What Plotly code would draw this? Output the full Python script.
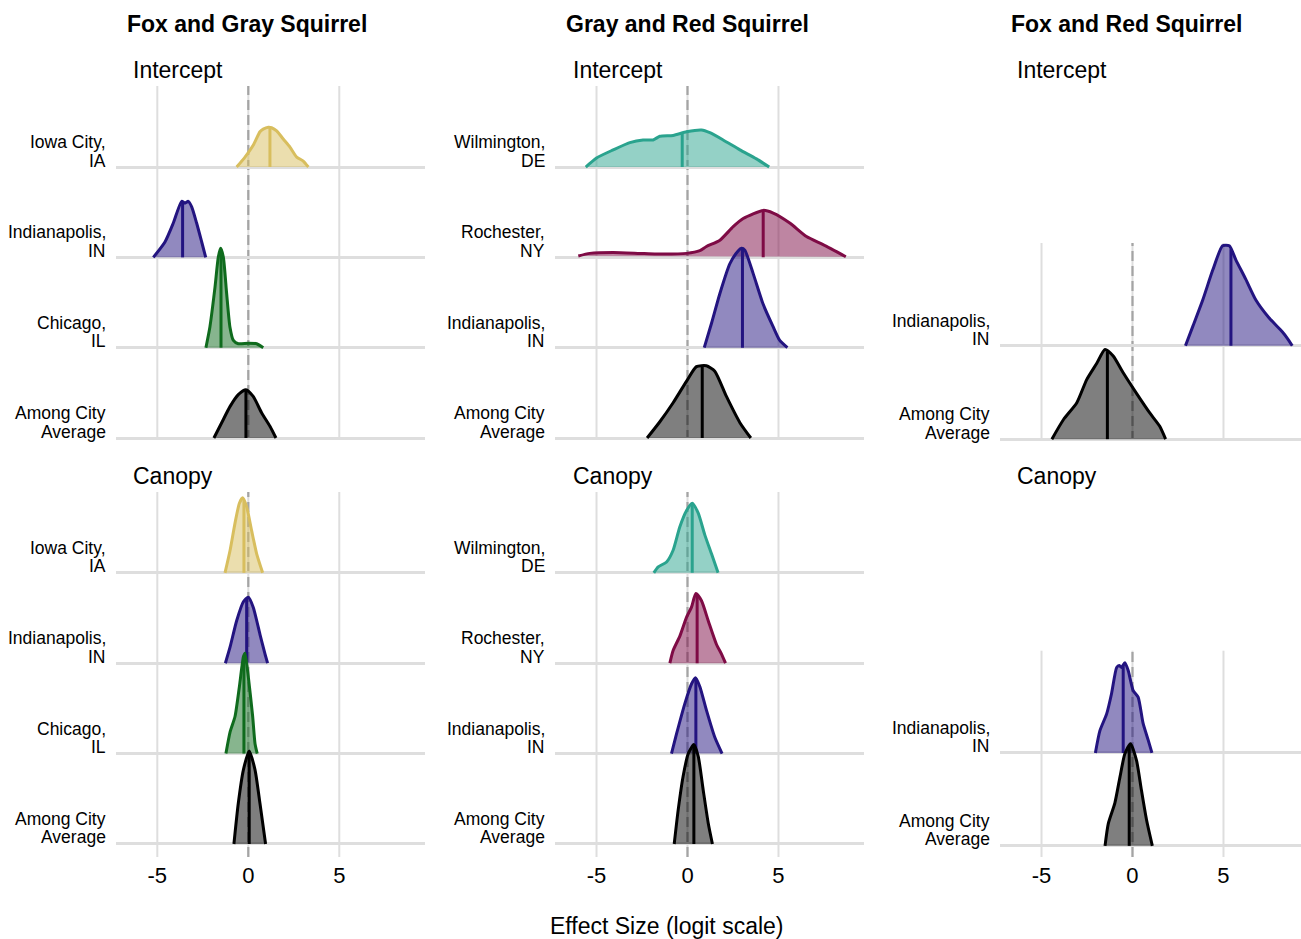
import numpy as np
import plotly.graph_objects as go

W, H = 1301, 939
FONT = "Liberation Sans, Arial, Helvetica, sans-serif"

# ---------------- data ----------------
COLUMN_TITLES = ["Fox and Gray Squirrel", "Gray and Red Squirrel", "Fox and Red Squirrel"]
PARAMS = ["Intercept", "Canopy"]
X_TICKS = [-5, 0, 5]
X_TICK_TEXT = ["-5", "0", "5"]
X_TITLE = "Effect Size (logit scale)"

# row order bottom -> top
ROWS_FG = ["Among City|Average", "Chicago,|IL", "Indianapolis,|IN", "Iowa City,|IA"]
ROWS_GR = ["Among City|Average", "Indianapolis,|IN", "Rochester,|NY", "Wilmington,|DE"]
ROWS_FR = ["Among City|Average", "Indianapolis,|IN"]

# --- Fox & Gray, Intercept
FG_INT_IOWA_X = [-0.64, -0.18, 0.27, 0.64, 0.82, 1.10, 1.28, 1.56, 1.92, 2.29, 2.66, 3.02, 3.30]
FG_INT_IOWA_H = [0, 0.11, 0.24, 0.39, 0.42, 0.44, 0.435, 0.40, 0.31, 0.22, 0.11, 0.066, 0]
FG_INT_IOWA_MED = 1.19
FG_INT_INDY_X = [-5.22, -4.58, -4.12, -3.66, -3.48, -3.30, -3.11, -2.84, -2.56, -2.34]
FG_INT_INDY_H = [0, 0.17, 0.38, 0.62, 0.60, 0.62, 0.56, 0.38, 0.17, 0]
FG_INT_INDY_MED = -3.61
FG_INT_CHI_X = [-2.33, -2.11, -1.83, -1.65, -1.52, -1.37, -1.19, -1.01, -0.82, -0.55, 0.0, 0.46, 0.82]
FG_INT_CHI_H = [0, 0.23, 0.67, 1.0, 1.10, 1.0, 0.60, 0.23, 0.08, 0.044, 0.05, 0.044, 0]
FG_INT_CHI_MED = -1.50
FG_INT_AVG_X = [-1.89, -1.47, -1.0, -0.55, -0.13, 0.27, 0.73, 1.19, 1.52]
FG_INT_AVG_H = [0, 0.166, 0.35, 0.48, 0.535, 0.46, 0.28, 0.13, 0]
FG_INT_AVG_MED = -0.13

# --- Gray & Red, Intercept
GR_INT_WIL_X = [-5.59, -5.0, -4.08, -3.17, -2.44, -1.89, -1.52, -0.79, -0.05, 0.77, 1.23, 1.96, 2.88, 3.79, 4.49]
GR_INT_WIL_H = [0, 0.10, 0.19, 0.27, 0.30, 0.30, 0.34, 0.35, 0.39, 0.41, 0.38, 0.30, 0.19, 0.09, 0]
GR_INT_WIL_MED = -0.29
GR_INT_ROC_X = [-6.0, -5.37, -4.08, -2.62, -1.70, -0.05, 0.68, 1.04, 1.78, 2.51, 3.06, 4.16, 4.71, 5.62, 6.54, 7.45, 8.70]
GR_INT_ROC_H = [0.015, 0.044, 0.055, 0.044, 0.037, 0.044, 0.074, 0.12, 0.19, 0.34, 0.43, 0.52, 0.49, 0.38, 0.23, 0.14, 0.007]
GR_INT_ROC_MED = 4.16
GR_INT_INDY_X = [0.92, 1.32, 1.78, 2.33, 2.78, 2.97, 3.15, 3.61, 4.16, 4.71, 5.07, 5.49]
GR_INT_INDY_H = [0, 0.27, 0.60, 0.93, 1.07, 1.10, 1.08, 0.82, 0.48, 0.23, 0.08, 0]
GR_INT_INDY_MED = 3.02
GR_INT_AVG_X = [-2.22, -1.52, -0.79, -0.05, 0.49, 1.04, 1.50, 2.14, 2.88, 3.48]
GR_INT_AVG_H = [0, 0.18, 0.39, 0.63, 0.79, 0.80, 0.74, 0.46, 0.17, 0]
GR_INT_AVG_MED = 0.81

# --- Fox & Red, Intercept
FR_INT_INDY_X = [2.91, 3.32, 3.86, 4.41, 4.95, 5.32, 5.68, 6.23, 6.78, 7.50, 8.23, 8.51, 8.78]
FR_INT_INDY_H = [0, 0.21, 0.49, 0.81, 1.07, 1.07, 0.92, 0.71, 0.49, 0.30, 0.15, 0.08, 0]
FR_INT_INDY_MED = 5.41
FR_INT_AVG_X = [-4.43, -3.79, -3.06, -2.51, -1.97, -1.51, -1.06, -0.51, 0.22, 0.95, 1.49, 1.82]
FR_INT_AVG_H = [0, 0.21, 0.39, 0.64, 0.81, 0.96, 0.89, 0.71, 0.49, 0.28, 0.14, 0]
FR_INT_AVG_MED = -1.38

# --- Fox & Gray, Canopy
FG_CAN_IOWA_X = [-1.28, -1.0, -0.73, -0.49, -0.31, -0.09, 0.18, 0.46, 0.79]
FG_CAN_IOWA_H = [0, 0.25, 0.55, 0.77, 0.83, 0.73, 0.47, 0.21, 0]
FG_CAN_IOWA_MED = -0.24
FG_CAN_INDY_X = [-1.26, -1.0, -0.64, -0.27, 0.0, 0.27, 0.64, 0.92, 1.06]
FG_CAN_INDY_H = [0, 0.18, 0.47, 0.68, 0.73, 0.62, 0.32, 0.10, 0]
FG_CAN_INDY_MED = -0.09
FG_CAN_CHI_X = [-1.23, -1.0, -0.73, -0.49, -0.27, -0.18, 0.0, 0.24, 0.37, 0.49]
FG_CAN_CHI_H = [0, 0.24, 0.41, 0.74, 1.07, 1.11, 0.85, 0.41, 0.11, 0]
FG_CAN_CHI_MED = -0.24
FG_CAN_AVG_X = [-0.79, -0.55, -0.27, 0.05, 0.37, 0.64, 0.95]
FG_CAN_AVG_H = [0, 0.45, 0.82, 1.03, 0.82, 0.45, 0]
FG_CAN_AVG_MED = 0.05

# --- Gray & Red, Canopy
GR_CAN_WIL_X = [-1.85, -1.61, -1.15, -0.79, -0.42, -0.05, 0.26, 0.59, 0.95, 1.32, 1.68]
GR_CAN_WIL_H = [0, 0.066, 0.12, 0.25, 0.51, 0.69, 0.77, 0.66, 0.42, 0.21, 0]
GR_CAN_WIL_MED = 0.26
GR_CAN_ROC_X = [-0.97, -0.79, -0.42, -0.05, 0.22, 0.46, 0.77, 1.14, 1.59, 1.87, 2.09]
GR_CAN_ROC_H = [0, 0.14, 0.30, 0.51, 0.62, 0.77, 0.69, 0.47, 0.21, 0.10, 0]
GR_CAN_ROC_MED = 0.53
GR_CAN_INDY_X = [-0.88, -0.60, -0.15, 0.22, 0.44, 0.68, 1.04, 1.50, 1.90]
GR_CAN_INDY_H = [0, 0.22, 0.55, 0.77, 0.84, 0.74, 0.48, 0.18, 0]
GR_CAN_INDY_MED = 0.46
GR_CAN_AVG_X = [-0.73, -0.51, -0.24, 0.04, 0.35, 0.59, 0.86, 1.14, 1.37]
GR_CAN_AVG_H = [0, 0.38, 0.75, 1.0, 1.10, 0.97, 0.60, 0.23, 0]
GR_CAN_AVG_MED = 0.35

# --- Fox & Red, Canopy
FR_CAN_INDY_X = [-2.04, -1.79, -1.42, -1.15, -0.87, -0.73, -0.60, -0.42, -0.24, 0.04, 0.31, 0.58, 0.86, 1.07]
FR_CAN_INDY_H = [0, 0.24, 0.42, 0.64, 0.92, 0.94, 0.92, 0.97, 0.89, 0.67, 0.60, 0.32, 0.14, 0]
FR_CAN_INDY_MED = -0.51
FR_CAN_AVG_X = [-1.51, -1.33, -0.97, -0.69, -0.42, -0.11, 0.22, 0.49, 0.77, 1.09]
FR_CAN_AVG_H = [0, 0.24, 0.46, 0.74, 0.99, 1.10, 0.92, 0.60, 0.28, 0]
FR_CAN_AVG_MED = -0.18

CITY_COLORS = {
    "Iowa City": "#D8BE5E",
    "Indianapolis": "#231480",
    "Chicago": "#0F6B1D",
    "Among City": "#000000",
    "Wilmington": "#2AA38E",
    "Rochester": "#7E0B45",
}

# ---------------- layout geometry (pixels) ----------------
COL_X = [(116.0, 425.0), (555.2, 864.2), (1000.2, 1301.0)]
COL_XRANGE = [(-7.27, 9.71), (-7.27, 9.71), (-7.27, 9.26)]
# (pixel top, pixel bottom, range low, range high) for [param][col]
PANEL_Y = {
    0: [(86, 440, -0.022, 3.897), (86, 440, -0.022, 3.897), (243, 441, -0.02, 2.10)],
    1: [(492, 857, -0.144, 3.894), (492, 857, -0.144, 3.894), (650.7, 857, -0.12, 2.10)],
}

RIDGES = {
    (0, 0): [(FG_INT_AVG_X, FG_INT_AVG_H, FG_INT_AVG_MED), (FG_INT_CHI_X, FG_INT_CHI_H, FG_INT_CHI_MED),
             (FG_INT_INDY_X, FG_INT_INDY_H, FG_INT_INDY_MED), (FG_INT_IOWA_X, FG_INT_IOWA_H, FG_INT_IOWA_MED)],
    (0, 1): [(GR_INT_AVG_X, GR_INT_AVG_H, GR_INT_AVG_MED), (GR_INT_INDY_X, GR_INT_INDY_H, GR_INT_INDY_MED),
             (GR_INT_ROC_X, GR_INT_ROC_H, GR_INT_ROC_MED), (GR_INT_WIL_X, GR_INT_WIL_H, GR_INT_WIL_MED)],
    (0, 2): [(FR_INT_AVG_X, FR_INT_AVG_H, FR_INT_AVG_MED), (FR_INT_INDY_X, FR_INT_INDY_H, FR_INT_INDY_MED)],
    (1, 0): [(FG_CAN_AVG_X, FG_CAN_AVG_H, FG_CAN_AVG_MED), (FG_CAN_CHI_X, FG_CAN_CHI_H, FG_CAN_CHI_MED),
             (FG_CAN_INDY_X, FG_CAN_INDY_H, FG_CAN_INDY_MED), (FG_CAN_IOWA_X, FG_CAN_IOWA_H, FG_CAN_IOWA_MED)],
    (1, 1): [(GR_CAN_AVG_X, GR_CAN_AVG_H, GR_CAN_AVG_MED), (GR_CAN_INDY_X, GR_CAN_INDY_H, GR_CAN_INDY_MED),
             (GR_CAN_ROC_X, GR_CAN_ROC_H, GR_CAN_ROC_MED), (GR_CAN_WIL_X, GR_CAN_WIL_H, GR_CAN_WIL_MED)],
    (1, 2): [(FR_CAN_AVG_X, FR_CAN_AVG_H, FR_CAN_AVG_MED), (FR_CAN_INDY_X, FR_CAN_INDY_H, FR_CAN_INDY_MED)],
}
ROW_NAMES = [ROWS_FG, ROWS_GR, ROWS_FR]


def hex_rgba(h, a):
    h = h.lstrip("#")
    r, g, b = int(h[0:2], 16), int(h[2:4], 16), int(h[4:6], 16)
    return f"rgba({r},{g},{b},{a})"


def fx(px):
    return px / W


def fy(py):
    return 1 - py / H


fig = go.Figure()
layout = dict(
    width=W, height=H, autosize=False,
    margin=dict(l=0, r=0, t=0, b=0),
    paper_bgcolor="white", plot_bgcolor="white",
    showlegend=False, font=dict(family=FONT, color="black"),
)
shapes, annotations = [], []

GRID = "#DEDEDE"
idx = 0
for p in range(2):
    for c in range(3):
        idx += 1
        xa = "x" if idx == 1 else f"x{idx}"
        ya = "y" if idx == 1 else f"y{idx}"
        xkey = "xaxis" if idx == 1 else f"xaxis{idx}"
        ykey = "yaxis" if idx == 1 else f"yaxis{idx}"
        top, bot, ylo, yhi = PANEL_Y[p][c]
        rows = ROW_NAMES[c]
        layout[xkey] = dict(
            domain=[fx(COL_X[c][0]), fx(COL_X[c][1])], range=list(COL_XRANGE[c]),
            anchor=ya, tickvals=X_TICKS, ticktext=X_TICK_TEXT,
            showticklabels=(p == 1), ticks="", showgrid=False,
            zeroline=False, showline=False, tickfont=dict(size=22, family=FONT, color="black"),
            ticklabelstandoff=3, fixedrange=True,
        )
        layout[ykey] = dict(
            domain=[fy(bot), fy(top)], range=[ylo, yhi], anchor=xa,
            tickvals=list(range(len(rows))), showticklabels=False, ticks="",
            showgrid=True, gridcolor=GRID, gridwidth=2.5, zeroline=False, showline=False,
            fixedrange=True,
        )
        # vertical grid lines at the x ticks, then the dashed zero reference line
        for tv in X_TICKS:
            shapes.append(dict(type="line", xref=xa, yref=f"{ya} domain", x0=tv, x1=tv, y0=0, y1=1,
                               line=dict(color=GRID, width=2), layer="below"))
        shapes.append(dict(type="line", xref=xa, yref=f"{ya} domain", x0=0, x1=0, y0=0, y1=1,
                           line=dict(color="#A4A4A4", width=2.2, dash="10px,5px"), layer="below"))

        # ridges: top row drawn first so lower rows are in front
        ridges = RIDGES[(p, c)]
        for k in range(len(ridges) - 1, -1, -1):
            xs, hs, med = ridges[k]
            name = rows[k].split("|")[0].rstrip(",")
            col = CITY_COLORS[name]
            ys = [k + h for h in hs]
            fig.add_trace(go.Scatter(
                x=xs, y=ys, mode="lines", xaxis=xa, yaxis=ya,
                line=dict(color=col, width=3, shape="spline", smoothing=0.6),
                fill="toself", fillcolor=hex_rgba(col, 0.5), hoverinfo="skip",
            ))
            mh = float(np.interp(med, xs, hs))
            fig.add_trace(go.Scatter(
                x=[med, med], y=[k, k + mh], mode="lines", xaxis=xa, yaxis=ya,
                line=dict(color=col, width=3), hoverinfo="skip",
            ))

        # row labels (two lines, sitting on each baseline)
        px_per_unit = (bot - top) / (yhi - ylo)
        label_right = COL_X[c][0] - 8
        for k, lab in enumerate(rows):
            base_px = bot - (k - ylo) * px_per_unit
            l1, l2 = lab.split("|")
            annotations.append(dict(text=l2, x=fx(label_right), y=fy(base_px - 6.5), xref="paper", yref="paper",
                                    xanchor="right", yanchor="middle", showarrow=False,
                                    font=dict(size=17.5, family=FONT, color="black")))
            annotations.append(dict(text=l1, x=fx(label_right), y=fy(base_px - 25), xref="paper", yref="paper",
                                    xanchor="right", yanchor="middle", showarrow=False,
                                    font=dict(size=17.5, family=FONT, color="black")))

# column titles
COL_TITLE_X = [247, 688, 1126]
for c in range(3):
    annotations.append(dict(text=f"<b>{COLUMN_TITLES[c]}</b>", x=fx(COL_TITLE_X[c]), y=fy(24),
                            xref="paper", yref="paper", xanchor="center", yanchor="middle",
                            showarrow=False, font=dict(size=23, family=FONT, color="black")))
# parameter subtitles
SUB_X = [131, 571, 1015]
SUB_Y = [70, 476]
for p in range(2):
    for c in range(3):
        annotations.append(dict(text=PARAMS[p], x=fx(SUB_X[c]), y=fy(SUB_Y[p]), xref="paper", yref="paper",
                                xanchor="left", yanchor="middle", showarrow=False,
                                font=dict(size=23, family=FONT, color="black")))
# x axis title
annotations.append(dict(text=X_TITLE, x=fx(667), y=fy(926), xref="paper", yref="paper",
                        xanchor="center", yanchor="middle", showarrow=False,
                        font=dict(size=23, family=FONT, color="black")))

layout["shapes"] = shapes
layout["annotations"] = annotations
fig.update_layout(**layout)
fig.write_html("out.html", config={"displayModeBar": False},
               post_script="document.body.style.margin='0';document.body.style.overflow='hidden';")
